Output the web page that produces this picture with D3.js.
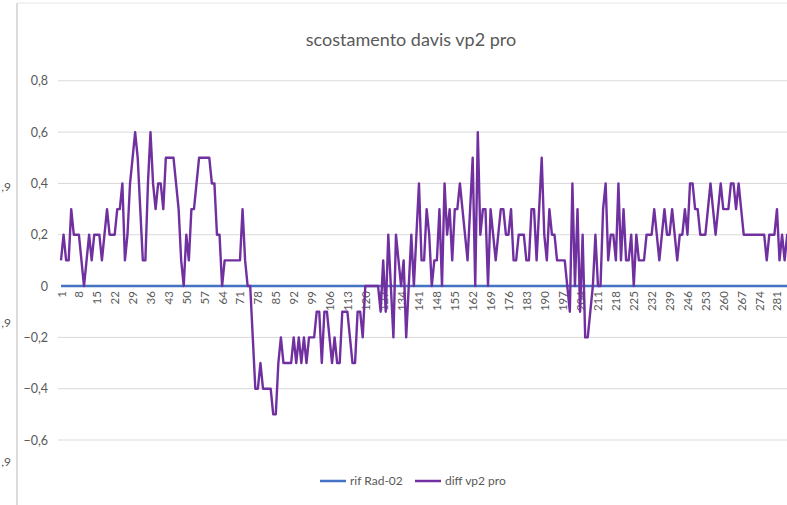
<!DOCTYPE html>
<html>
<head>
<meta charset="utf-8">
<script src="https://cdn.jsdelivr.net/npm/d3@7"></script>
<style>
  body { margin: 0; background: #fff; }
  svg { display: block; font-family: Lato, "Liberation Sans", sans-serif; }
</style>
</head>
<body>
<div id="chart"></div>
<script>
// values, one per category (1..287)
const diffVp2Pro = [
  0.1, 0.2, 0.1, 0.1, 0.3, 0.2, 0.2, 0.2, 0.1, 0,
  0.1, 0.2, 0.1, 0.2, 0.2, 0.2, 0.1, 0.2, 0.3, 0.2,
  0.2, 0.2, 0.3, 0.3, 0.4, 0.1, 0.2, 0.4, 0.5, 0.6,
  0.5, 0.3, 0.1, 0.1, 0.4, 0.6, 0.4, 0.3, 0.4, 0.4,
  0.3, 0.5, 0.5, 0.5, 0.5, 0.4, 0.3, 0.1, 0, 0.2,
  0.1, 0.3, 0.3, 0.4, 0.5, 0.5, 0.5, 0.5, 0.5, 0.4,
  0.4, 0.2, 0.2, 0, 0.1, 0.1, 0.1, 0.1, 0.1, 0.1,
  0.1, 0.3, 0.1, 0, 0, -0.2, -0.4, -0.4, -0.3, -0.4,
  -0.4, -0.4, -0.4, -0.5, -0.5, -0.3, -0.2, -0.3, -0.3, -0.3,
  -0.3, -0.2, -0.3, -0.2, -0.3, -0.2, -0.3, -0.2, -0.2, -0.2,
  -0.1, -0.1, -0.3, -0.1, -0.1, -0.2, -0.3, -0.2, -0.3, -0.3,
  -0.1, -0.1, -0.1, -0.2, -0.3, -0.3, -0.1, -0.1, -0.2, 0,
  0, 0, 0, 0, 0, -0.1, 0.1, -0.1, 0.2, 0,
  -0.2, 0.2, 0.1, 0, 0.1, -0.2, 0, 0.2, 0, 0.2,
  0.4, 0.1, 0.1, 0.3, 0.2, 0, 0.1, 0.1, 0.3, 0,
  0.4, 0.2, 0.3, 0.1, 0.3, 0.3, 0.4, 0.3, 0.2, 0.1,
  0.3, 0.5, 0, 0.6, 0.2, 0.3, 0.3, 0, 0.3, 0.2,
  0.1, 0.2, 0.3, 0.3, 0.2, 0.2, 0.3, 0.1, 0.1, 0.2,
  0.2, 0.2, 0.1, 0.1, 0.3, 0.3, 0.1, 0.3, 0.5, 0.2,
  0.1, 0.3, 0.2, 0.2, 0.1, 0.1, 0.1, 0.1, 0, -0.1,
  0.4, 0, 0.3, -0.1, 0.2, -0.2, -0.2, -0.1, 0, 0.2,
  0, 0, 0.3, 0.4, 0.1, 0.2, 0.2, 0.1, 0.4, 0.1,
  0.3, 0.1, 0.1, 0.2, 0, 0.2, 0.1, 0.1, 0.1, 0.2,
  0.2, 0.2, 0.3, 0.2, 0.1, 0.2, 0.3, 0.2, 0.2, 0.3,
  0.2, 0.1, 0.2, 0.2, 0.3, 0.2, 0.4, 0.4, 0.3, 0.3,
  0.2, 0.2, 0.2, 0.3, 0.4, 0.3, 0.2, 0.3, 0.4, 0.3,
  0.3, 0.3, 0.4, 0.4, 0.3, 0.4, 0.3, 0.2, 0.2, 0.2,
  0.2, 0.2, 0.2, 0.2, 0.2, 0.2, 0.1, 0.2, 0.2, 0.2,
  0.3, 0.1, 0.2, 0.1, 0.2, 0.2, 0.2
];
const categories = diffVp2Pro.map((d, i) => i + 1);
// reference series is flat at zero for every category
const rifRad02 = categories.map(() => 0);

const yTicks = [-0.6, -0.4, -0.2, 0, 0.2, 0.4, 0.6, 0.8];
const xTickEvery = 7;
const seriesNames = ['rif Rad-02', 'diff vp2 pro'];
const seriesColors = ['#4472c4', '#7030a0'];
const title = 'scostamento davis vp2 pro';
// what is left of the neighbouring chart's labels at the left edge
const cutLabels = [',9', ',9', ',9'];

const width = 787, height = 505;
const textColor = '#595959';
const gridColor = '#d9d9d9';

const svg = d3.select('#chart').append('svg')
  .attr('width', width)
  .attr('height', height);

const x = d3.scalePoint()
  .domain(categories)
  .range([61, 61 + (categories.length - 1) * 2.557]);

const y = d3.scaleLinear()
  .domain([-0.6, 0.8])
  .range([440, 80.8]);

const fmt = d => d === 0 ? '0' : d3.format('.1f')(d).replace('.', ',');

// chart border
svg.append('line')
  .attr('x1', 17).attr('x2', 17).attr('y1', 3).attr('y2', height)
  .attr('stroke', '#d0d0d0').attr('stroke-width', 1.5);
svg.append('line')
  .attr('x1', 17).attr('x2', width).attr('y1', 3).attr('y2', 3)
  .attr('stroke', '#e6e6e6').attr('stroke-width', 1);

// bits of the chart on the left
svg.selectAll('text.cut')
  .data(cutLabels)
  .enter()
  .append('text')
  .attr('class', 'cut')
  .attr('x', 11)
  .attr('y', (d, i) => [191, 327, 466][i])
  .attr('text-anchor', 'end')
  .attr('font-size', 12)
  .attr('fill', textColor)
  .text(d => d);

// gridlines
svg.append('g')
  .selectAll('line')
  .data(yTicks.filter(d => d !== 0))
  .enter()
  .append('line')
  .attr('x1', 58).attr('x2', width)
  .attr('y1', d => y(d)).attr('y2', d => y(d))
  .attr('stroke', gridColor).attr('stroke-width', 1);

// y axis labels
const yAxis = svg.append('g')
  .attr('transform', 'translate(48,0)')
  .call(d3.axisLeft(y).tickValues(yTicks).tickSize(0).tickPadding(0).tickFormat(fmt));
yAxis.select('.domain').remove();
yAxis.selectAll('text')
  .attr('fill', textColor)
  .attr('font-size', 12.5)
  .attr('font-family', 'Lato, "Liberation Sans", sans-serif');

// x axis labels, rotated
const xAxis = svg.append('g')
  .attr('transform', 'translate(0,' + y(0) + ')')
  .call(d3.axisBottom(x)
    .tickValues(categories.filter(d => (d - 1) % xTickEvery === 0))
    .tickSize(0));
xAxis.select('.domain').remove();
xAxis.selectAll('text')
  .attr('fill', textColor)
  .attr('font-size', 11.5)
  .attr('font-family', 'Lato, "Liberation Sans", sans-serif')
  .attr('text-anchor', 'end')
  .attr('dy', null)
  .attr('y', 0)
  .attr('transform', 'translate(4,5) rotate(-90)');

// series
const line = d3.line()
  .x((d, i) => x(categories[i]))
  .y(d => y(d));

svg.append('path')
  .datum(rifRad02)
  .attr('fill', 'none')
  .attr('stroke', seriesColors[0])
  .attr('stroke-width', 2.5)
  .attr('d', line);

svg.append('path')
  .datum(diffVp2Pro)
  .attr('fill', 'none')
  .attr('stroke', seriesColors[1])
  .attr('stroke-width', 2.4)
  .attr('stroke-linejoin', 'round')
  .attr('d', line);

// title
svg.append('text')
  .attr('x', 411)
  .attr('y', 46)
  .attr('text-anchor', 'middle')
  .attr('font-size', 18)
  .attr('fill', textColor)
  .text(title);

// legend
const legend = svg.append('g').attr('transform', 'translate(320,481)');
const legendX = [0, 95];
seriesNames.forEach((name, i) => {
  const g = legend.append('g').attr('transform', 'translate(' + legendX[i] + ',0)');
  g.append('line')
    .attr('x1', 0).attr('x2', 26)
    .attr('stroke', seriesColors[i])
    .attr('stroke-width', 2.5);
  g.append('text')
    .attr('x', 30)
    .attr('y', 4)
    .attr('font-size', 12)
    .attr('fill', textColor)
    .text(name);
});
</script>
</body>
</html>
